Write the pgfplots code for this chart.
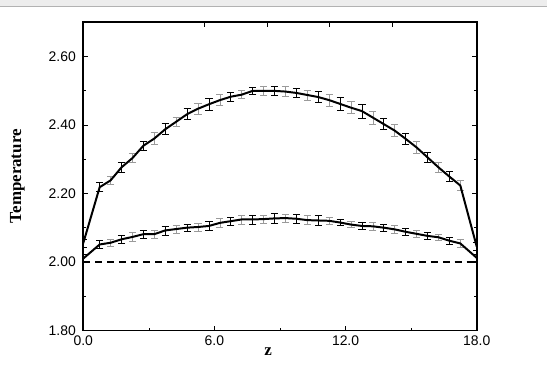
\documentclass[border=0pt]{standalone}
\usepackage{pgfplots}
\pgfplotsset{compat=1.18}
\usepackage{pgfplotstable}
\usepackage{fontspec}
\setmainfont{Liberation Serif}
\newfontfamily\sansf{Liberation Sans}
\definecolor{bargray}{HTML}{9A9A9A}

% z  T  e  g (g=1 black bar, g=0 gray bar)
\pgfplotstableread{
z T e g
0 2.055 0.012 1
0.75 2.218 0.013 1
1.25 2.238 0.013 0
1.75 2.276 0.014 1
2.25 2.303 0.013 0
2.75 2.339 0.014 1
3.25 2.360 0.017 0
3.75 2.387 0.016 1
4.25 2.409 0.014 0
4.75 2.431 0.016 1
5.25 2.447 0.016 0
5.75 2.460 0.017 1
6.25 2.472 0.016 0
6.75 2.482 0.013 1
7.25 2.488 0.012 0
7.75 2.499 0.010 1
8.25 2.499 0.012 0
8.75 2.499 0.013 1
9.25 2.497 0.014 0
9.75 2.493 0.013 1
10.25 2.487 0.015 0
10.75 2.481 0.016 1
11.25 2.472 0.017 0
11.75 2.461 0.020 1
12.25 2.450 0.018 0
12.75 2.440 0.020 1
13.25 2.421 0.019 0
13.75 2.402 0.016 1
14.25 2.383 0.017 0
14.75 2.359 0.017 1
15.25 2.334 0.018 0
15.75 2.305 0.015 1
16.25 2.276 0.014 0
16.75 2.249 0.014 1
17.25 2.223 0.015 0
18 2.045 0.012 1
}\upperdata

\pgfplotstableread{
z T e g
0 2.010 0.012 1
0.75 2.051 0.011 1
1.25 2.056 0.011 0
1.75 2.066 0.012 1
2.25 2.073 0.012 0
2.75 2.081 0.011 1
3.25 2.081 0.012 0
3.75 2.092 0.013 1
4.25 2.096 0.012 0
4.75 2.100 0.011 1
5.25 2.102 0.012 0
5.75 2.105 0.014 1
6.25 2.114 0.012 0
6.75 2.119 0.011 1
7.25 2.124 0.013 0
7.75 2.124 0.013 1
8.25 2.125 0.012 0
8.75 2.127 0.015 1
9.25 2.128 0.012 0
9.75 2.126 0.012 1
10.25 2.122 0.013 0
10.75 2.121 0.014 1
11.25 2.120 0.010 0
11.75 2.115 0.008 1
12.25 2.109 0.009 0
12.75 2.105 0.010 1
13.25 2.104 0.011 0
13.75 2.100 0.010 1
14.25 2.095 0.012 0
14.75 2.088 0.011 1
15.25 2.082 0.010 0
15.75 2.076 0.010 1
16.25 2.072 0.009 0
16.75 2.062 0.010 1
17.25 2.054 0.011 0
18 2.012 0.010 1
}\lowerdata

\pgfplotsset{
  blackbars/.style={draw=none, mark=none, forget plot,
    restrict expr to domain={\thisrow{g}}{0.5:1.5},
    error bars/.cd, y dir=both, y explicit,
    error bar style={draw=black, line width=0.7pt},
    error mark options={rotate=90, mark size=3.6bp, draw=black, line width=0.7pt}},
  graybars/.style={draw=none, mark=none, forget plot,
    restrict expr to domain={\thisrow{g}}{-0.5:0.5},
    error bars/.cd, y dir=both, y explicit,
    error bar style={draw=bargray, line width=0.7pt},
    error mark options={rotate=90, mark size=3.6bp, draw=bargray, line width=0.7pt}},
}

\begin{document}
\begin{tikzpicture}
\begin{axis}[
  scale only axis,
  width=394bp, height=309bp,
  xmin=0, xmax=18, ymin=1.8, ymax=2.7,
  axis line style={line width=1.6pt},
  xtick={0,6,12,18},
  minor xtick={3,9,15},
  ytick={1.8,2.0,2.2,2.4,2.6},
  minor ytick={1.9,2.1,2.3,2.5},
  xtick pos=bottom,
  ytick pos=both,
  tick align=inside,
  major tick length=5bp,
  minor tick length=3bp,
  tick style={black, line width=0.6pt},
  /pgf/number format/assume math mode=true,
  tick label style={font=\sansf\fontsize{14}{16}\selectfont},
  xticklabel style={yshift=-2bp, /pgf/number format/.cd, fixed, fixed zerofill, precision=1},
  yticklabel style={xshift=-4bp, /pgf/number format/.cd, fixed, fixed zerofill, precision=2},
  xlabel={z},
  ylabel={Temperature},
  every axis x label/.style={at={([yshift=-21bp]axis description cs:0.47,0)}, anchor=center,
     font=\bfseries\fontsize{17}{19}\selectfont},
  every axis y label/.style={at={([xshift=-55bp]axis description cs:0,0.5)}, rotate=90, anchor=south,
     font=\bfseries\fontsize{17}{19}\selectfont},
]
% dashed reference line
\addplot[black, line width=1.4pt, dash pattern=on 7bp off 5bp] coordinates {(0,2.0) (18,2.0)};

% error bars (black and gray)
\addplot[blackbars] table[x=z, y=T, y error=e] {\upperdata};
\addplot[graybars] table[x=z, y=T, y error=e] {\upperdata};
\addplot[blackbars] table[x=z, y=T, y error=e] {\lowerdata};
\addplot[graybars] table[x=z, y=T, y error=e] {\lowerdata};

% curves
\addplot[black, line width=2pt, mark=none] table[x=z, y=T] {\upperdata};
\addplot[black, line width=2pt, mark=none] table[x=z, y=T] {\lowerdata};
\end{axis}
% top-side ticks of the frame (different spacing from bottom)
\begin{axis}[
  scale only axis,
  width=394bp, height=309bp,
  xmin=0, xmax=18, ymin=1.8, ymax=2.7,
  hide y axis,
  axis x line*=top,
  axis line style={draw=none},
  xtick={5.53,8.41,11.25,14.13},
  xticklabels={},
  tick align=inside,
  major tick length=5bp,
  tick style={black, line width=0.6pt},
]
\addplot[draw=none] coordinates {(0,2)};
\end{axis}
% page frame and top band
\fill[black!7] ([xshift=-83bp,yshift=22bp]current axis.north west) rectangle ([xshift=70bp,yshift=16bp]current axis.north east);
\draw[black!30, line width=0.8pt] ([xshift=-83bp,yshift=16bp]current axis.north west) -- ([xshift=70bp,yshift=16bp]current axis.north east);
\path ([xshift=-83bp,yshift=-48bp]current axis.south west) rectangle ([xshift=70bp,yshift=22bp]current axis.north east);
\end{tikzpicture}
\end{document}
